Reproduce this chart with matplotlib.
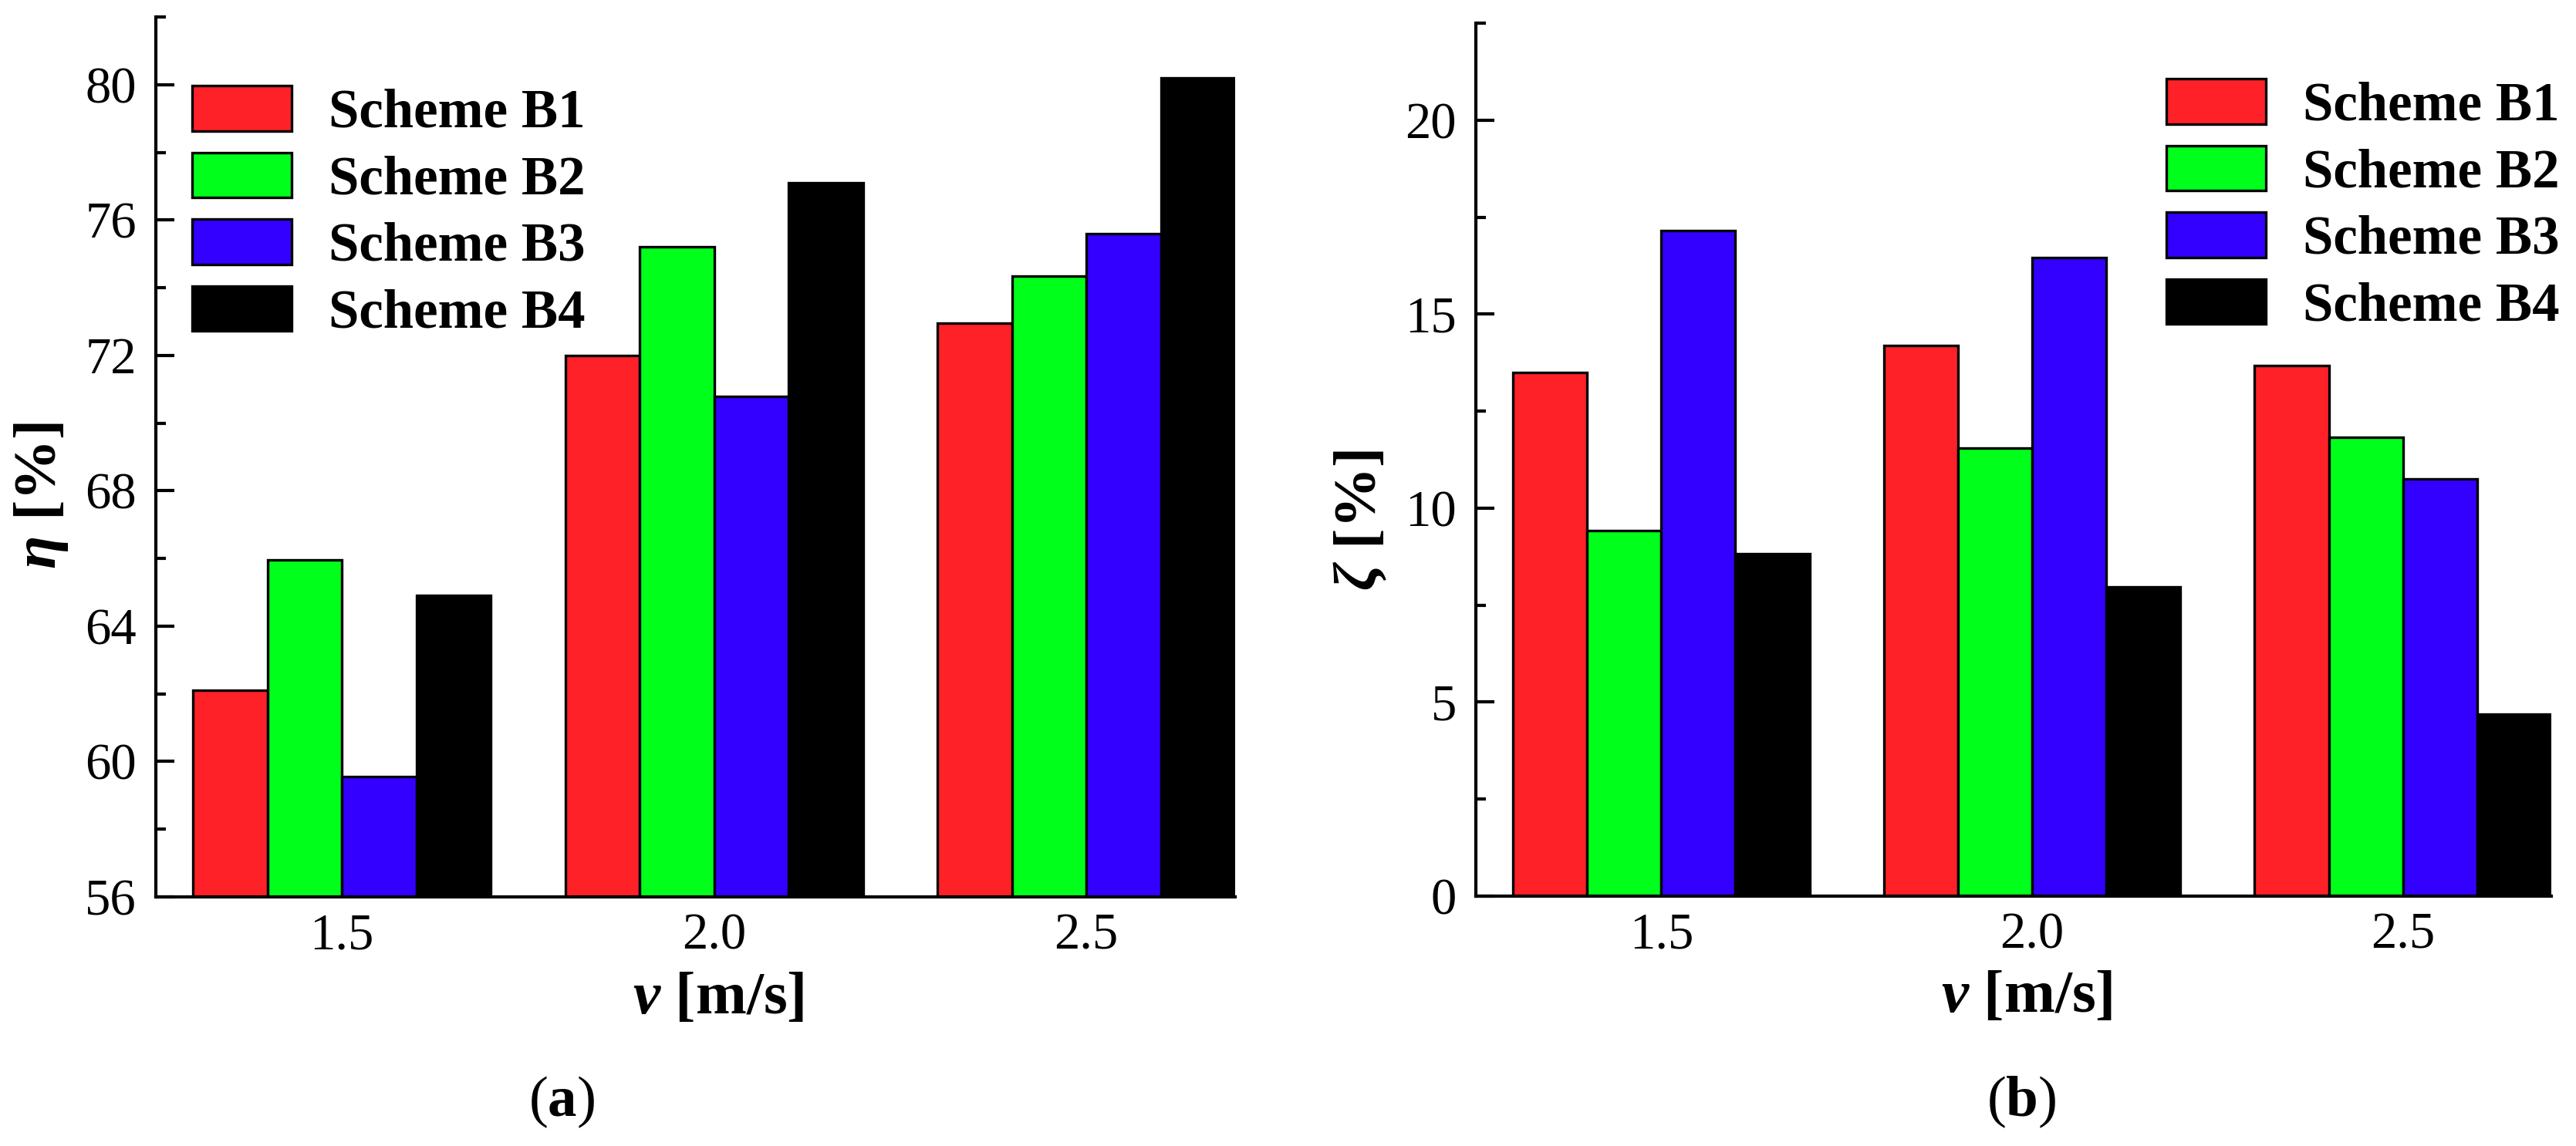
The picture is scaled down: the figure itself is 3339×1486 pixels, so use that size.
import matplotlib
matplotlib.use("Agg")
import matplotlib.pyplot as plt
from matplotlib.ticker import MultipleLocator, NullLocator

# ---------------- data ----------------
speeds = [1.5, 2.0, 2.5]
speed_labels = ["1.5", "2.0", "2.5"]
schemes = ["Scheme B1", "Scheme B2", "Scheme B3", "Scheme B4"]
colors = ["#FF2128", "#00FF1A", "#3300FF", "#000000"]

eta_b1 = [62.1, 72.0, 72.95]
eta_b2 = [65.95, 75.2, 74.35]
eta_b3 = [59.55, 70.8, 75.6]
eta_b4 = [64.9, 77.1, 80.2]

zeta_b1 = [13.5, 14.2, 13.68]
zeta_b2 = [9.43, 11.55, 11.83]
zeta_b3 = [17.15, 16.45, 10.75]
zeta_b4 = [8.83, 7.98, 4.70]

eta_series = [eta_b1, eta_b2, eta_b3, eta_b4]
zeta_series = [zeta_b1, zeta_b2, zeta_b3, zeta_b4]

# ---------------- style ----------------
plt.rcParams["font.family"] = ["Liberation Serif", "DejaVu Serif"]
plt.rcParams["mathtext.fontset"] = "custom"
plt.rcParams["mathtext.rm"] = "Liberation Serif"
plt.rcParams["mathtext.it"] = "Liberation Serif:italic:bold"
plt.rcParams["mathtext.bf"] = "Liberation Serif:bold"

W, H = 3339, 1486
DPI = 300
fig = plt.figure(figsize=(W / DPI, H / DPI), dpi=DPI)


def px_axes(l, t, r, b):
    return [l / W, 1 - b / H, (r - l) / W, (b - t) / H]


ax1 = fig.add_axes(px_axes(202, 22, 1601, 1163))
ax2 = fig.add_axes(px_axes(1913, 30, 3307, 1162))

bar_w = 0.1


def draw(ax, series, ylim, major, minor, ylabel, ylab_x, ylab_y, xlab_x,
         leg_anchor):
    n = len(series)
    for i, (vals, c, name) in enumerate(zip(series, colors, schemes)):
        xs = [s + (i - (n - 1) / 2) * bar_w for s in speeds]
        ax.bar(xs, vals, width=bar_w, color=c, edgecolor="black",
               linewidth=0.8, label=name, zorder=2)
    ax.set_xlim(1.25, 2.70)
    ax.set_ylim(*ylim)
    ax.set_xticks(speeds)
    ax.set_xticklabels(speed_labels)
    ax.yaxis.set_major_locator(MultipleLocator(major))
    ax.yaxis.set_minor_locator(MultipleLocator(minor))
    ax.xaxis.set_minor_locator(NullLocator())
    for sp in ("top", "right"):
        ax.spines[sp].set_visible(False)
    for sp in ("left", "bottom"):
        ax.spines[sp].set_linewidth(1.0)
    ax.tick_params(axis="y", which="major", direction="in", length=5.8,
                   width=1.0, labelsize=16, pad=6)
    ax.tick_params(axis="y", which="minor", direction="in", length=3.1,
                   width=1.0)
    ax.tick_params(axis="x", which="major", length=0, labelsize=16, pad=5)
    ax.set_ylabel(ylabel, fontsize=19, fontweight="bold")
    ax.yaxis.set_label_coords(ylab_x, ylab_y)
    ax.set_xlabel(r"$v$ [m/s]", fontsize=19, fontweight="bold")
    ax.xaxis.set_label_coords(xlab_x, -0.085)
    leg = ax.legend(loc="upper left", bbox_to_anchor=leg_anchor,
                    bbox_transform=fig.transFigure, frameon=False,
                    borderpad=0, borderaxespad=0, handlelength=1.82,
                    handleheight=0.9, handletextpad=0.68, labelspacing=0.25,
                    prop={"family": "Liberation Serif", "weight": "bold",
                          "size": 17})
    return leg


draw(ax1, eta_series, (56, 82), 4, 2, r"$\eta$ [%]", -0.079, 0.456, 0.521,
     (249 / W, 1 - 111 / H))
draw(ax2, zeta_series, (0, 22.5), 5, 2.5, r"$\zeta$ [%]", -0.081, 0.43, 0.512,
     (2808 / W, 1 - 102 / H))

fig.text(728 / W, 1 - 1429 / H, r"($\mathbf{a}$)", ha="center", va="center",
         fontsize=18)
fig.text(2620 / W, 1 - 1429 / H, r"($\mathbf{b}$)", ha="center", va="center",
         fontsize=18)

fig.savefig("out.png", dpi=DPI)
